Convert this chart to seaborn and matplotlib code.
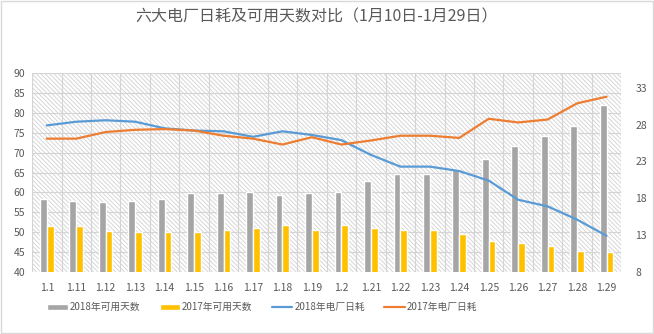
import numpy as np
import pandas as pd
import matplotlib
matplotlib.use("Agg")
import matplotlib.pyplot as plt
from matplotlib.patches import Rectangle, Patch
from matplotlib.lines import Line2D
from matplotlib.collections import LineCollection
import seaborn as sns

dates = ["1.1", "1.11", "1.12", "1.13", "1.14", "1.15", "1.16", "1.17", "1.18", "1.19",
         "1.2", "1.21", "1.22", "1.23", "1.24", "1.25", "1.26", "1.27", "1.28", "1.29"]
days_2018 = [58.3, 57.8, 57.6, 57.8, 58.3, 59.9, 59.9, 60.1, 59.3, 59.9,
             60.2, 62.8, 64.6, 64.7, 65.8, 68.4, 71.6, 74.1, 76.7, 82.0]
days_2017 = [51.6, 51.6, 50.3, 50.0, 50.0, 50.0, 50.5, 51.1, 51.9, 50.5,
             51.9, 51.1, 50.5, 50.5, 49.6, 47.8, 47.3, 46.5, 45.3, 44.9]
cons_2018 = [27.9, 28.4, 28.6, 28.4, 27.5, 27.2, 27.1, 26.35, 27.1, 26.6,
             25.9, 23.9, 22.3, 22.3, 21.7, 20.4, 17.8, 16.9, 15.1, 12.9]
cons_2017 = [26.1, 26.1, 27.0, 27.3, 27.4, 27.2, 26.5, 26.1, 25.3, 26.3,
             25.3, 25.85, 26.5, 26.5, 26.2, 28.8, 28.3, 28.7, 30.9, 31.8]
labels = ["2018年可用天数", "2017年可用天数", "2018年电厂日耗", "2017年电厂日耗"]
title = "六大电厂日耗及可用天数对比（1月10日-1月29日）"

sns.set_theme(style="white")
plt.rcParams["font.family"] = ["Noto Sans CJK SC", "DejaVu Sans"]

C_GRAY, C_YEL, C_BLUE, C_OR = "#A5A5A5", "#FFC000", "#5B9BD5", "#ED7D31"
TXT = "#595959"

FW, FH = 6.54, 3.34
AX_RECT = [0.049, 0.186, 0.901, 0.595]
fig = plt.figure(figsize=(FW, FH), dpi=100)
ax = fig.add_axes(AX_RECT)

# diagonal hatch texture for the plot area (decoration, in axes coordinates)
W = AX_RECT[2] * FW * 100
H = AX_RECT[3] * FH * 100
step = 4.4
segs = []
for c in np.arange(0, W + H + step, step):
    segs.append([(c / W, 0.0), ((c - H) / W, 1.0)])
ax.add_collection(LineCollection(segs, transform=ax.transAxes, colors="#d6d6d6",
                                 linewidths=0.7, zorder=0.2))

bars = pd.DataFrame({
    "date": dates * 2,
    "value": days_2018 + days_2017,
    "series": [labels[0]] * len(dates) + [labels[1]] * len(dates),
})
sns.barplot(data=bars, x="date", y="value", hue="series", order=dates,
            palette=[C_GRAY, C_YEL], width=0.46, gap=0, ax=ax, legend=False,
            zorder=3, saturation=1)

ax.set_ylim(40, 90)
ax.set_yticks(np.arange(40, 91, 5))
ax.set_xlim(-0.5, len(dates) - 0.5)
ax.set_xticks(np.arange(len(dates) + 1) - 0.5, minor=True)
ax.grid(True, axis="y", color="#d4d4d4", linewidth=0.8, zorder=1)
ax.grid(True, axis="x", which="minor", color="#d4d4d4", linewidth=0.8, zorder=1)
ax.set_axisbelow(True)
ax.set_xlabel("")
ax.set_ylabel("")
for s in ax.spines.values():
    s.set_visible(False)
ax.tick_params(axis="both", which="both", length=0, labelsize=7.5, labelcolor=TXT)
ax.tick_params(axis="x", pad=8)
ax.tick_params(axis="y", pad=5)

ax2 = ax.twinx()
pos = np.arange(len(dates))
sns.lineplot(x=pos, y=cons_2018, color=C_BLUE, linewidth=1.6, ax=ax2)
sns.lineplot(x=pos, y=cons_2017, color=C_OR, linewidth=1.6, ax=ax2)
ax2.set_ylim(8, 35)
ax2.set_yticks(np.arange(8, 34, 5))
ax2.set_xlim(-0.5, len(dates) - 0.5)
for s in ax2.spines.values():
    s.set_visible(False)
ax2.tick_params(axis="y", length=0, labelsize=7.5, labelcolor=TXT, pad=10)
ax2.grid(False)

fig.text(0.484, 0.948, title, ha="center", va="center", fontsize=11.5, color=TXT)

handles = [Patch(facecolor=C_GRAY), Patch(facecolor=C_YEL),
           Line2D([], [], color=C_BLUE, linewidth=1.6),
           Line2D([], [], color=C_OR, linewidth=1.6)]
leg = fig.legend(handles, labels, loc="center", bbox_to_anchor=(0.401, 0.08), ncol=4,
                 frameon=False, fontsize=7, handlelength=2.1, handleheight=0.6,
                 handletextpad=0.2, columnspacing=2.0, labelcolor=TXT)

fig.add_artist(Rectangle((0.001, 0.002), 0.997, 0.995, transform=fig.transFigure,
                         fill=False, edgecolor="#d9d9d9", linewidth=1))

fig.savefig("out.png", dpi=100)
